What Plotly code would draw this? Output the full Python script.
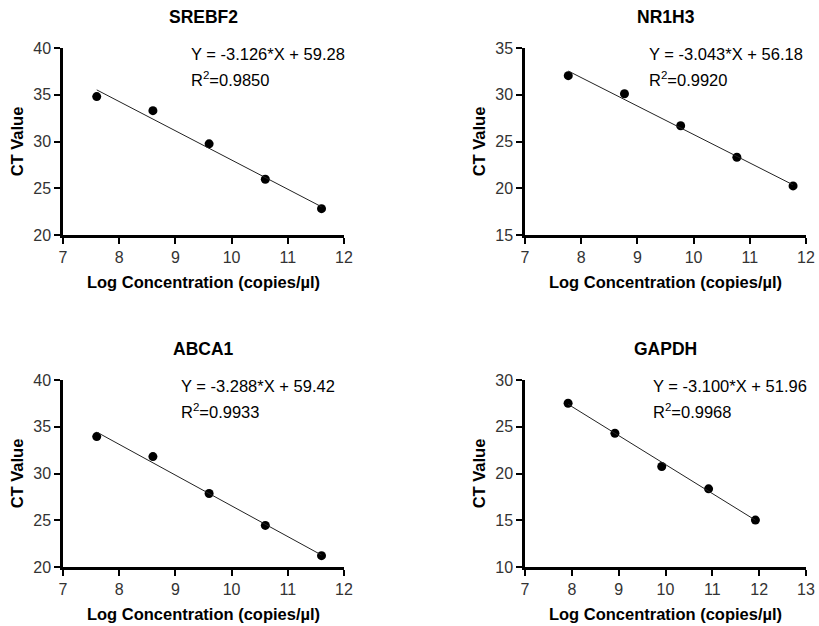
import plotly.graph_objects as go

# ---- data ----
genes = ["SREBF2", "NR1H3", "ABCA1", "GAPDH"]

srebf2_x = [7.6, 8.6, 9.6, 10.6, 11.6]
srebf2_y = [34.8, 33.3, 29.75, 25.96, 22.82]
nr1h3_x = [7.77, 8.77, 9.77, 10.77, 11.77]
nr1h3_y = [32.04, 30.11, 26.68, 23.32, 20.25]
abca1_x = [7.6, 8.6, 9.6, 10.6, 11.6]
abca1_y = [33.95, 31.81, 27.86, 24.45, 21.21]
gapdh_x = [7.92, 8.92, 9.92, 10.92, 11.92]
gapdh_y = [27.51, 24.31, 20.75, 18.36, 15.02]

slopes = [-3.126, -3.043, -3.288, -3.100]
intercepts = [59.28, 56.18, 59.42, 51.96]
r2 = ["0.9850", "0.9920", "0.9933", "0.9968"]

x_ranges = [[7, 12], [7, 12], [7, 12], [7, 13]]
y_ranges = [[20, 40], [15, 35], [20, 40], [10, 30]]
x_ticks = [[7, 8, 9, 10, 11, 12], [7, 8, 9, 10, 11, 12], [7, 8, 9, 10, 11, 12], [7, 8, 9, 10, 11, 12, 13]]

xs = [srebf2_x, nr1h3_x, abca1_x, gapdh_x]
ys = [srebf2_y, nr1h3_y, abca1_y, gapdh_y]

# ---- layout geometry (pixels) ----
W, H = 819, 626
x_dom_px = [(63, 344), (525, 806), (63, 344), (525, 806)]
y_dom_px = [(48, 235), (48, 235), (380, 567), (380, 567)]
eq_x_px = [189, 647, 179, 651]

FONT = "Arial, Liberation Sans, sans-serif"

fig = go.Figure()
layout = dict(
    width=W, height=H,
    margin=dict(l=0, r=0, t=0, b=0),
    paper_bgcolor="white", plot_bgcolor="white",
    showlegend=False,
    font=dict(family=FONT, color="#000000", size=16),
)
annotations = []

for i in range(4):
    n = i + 1
    xa = "x" if n == 1 else f"x{n}"
    ya = "y" if n == 1 else f"y{n}"
    x = xs[i]
    y = ys[i]
    fig.add_trace(go.Scatter(
        x=x, y=y, mode="markers", xaxis=xa, yaxis=ya,
        marker=dict(color="black", size=9),
        cliponaxis=False,
    ))
    lx = [min(x), max(x)]
    ly = [slopes[i] * v + intercepts[i] for v in lx]
    fig.add_trace(go.Scatter(
        x=lx, y=ly, mode="lines", xaxis=xa, yaxis=ya,
        line=dict(color="#222222", width=1),
    ))
    x0, x1 = x_dom_px[i]
    y0, y1 = y_dom_px[i]
    axis_common = dict(
        showgrid=False, zeroline=False, showline=True,
        linecolor="black", linewidth=2.5, automargin=False,
        ticks="outside", ticklen=6, tickwidth=2, tickcolor="black",
        tickfont=dict(family=FONT, size=16, color="#333333"),
    )
    layout["xaxis" if n == 1 else f"xaxis{n}"] = dict(
        axis_common,
        domain=[x0 / W, x1 / W], anchor=ya,
        range=x_ranges[i], tickvals=x_ticks[i],
        title=dict(text="<b>Log Concentration (copies/µl)</b>",
                   font=dict(family=FONT, size=16.5, color="black"), standoff=12),
    )
    layout["yaxis" if n == 1 else f"yaxis{n}"] = dict(
        axis_common,
        domain=[1 - y1 / H, 1 - y0 / H], anchor=xa,
        range=y_ranges[i], dtick=5,
        title=dict(text="<b>CT Value</b>",
                   font=dict(family=FONT, size=16.5, color="black"), standoff=6),
    )
    # title
    annotations.append(dict(
        text=f"<b>{genes[i]}</b>", x=(x0 + x1) / 2 / W, y=1 - (y0 - 31) / H,
        xref="paper", yref="paper", showarrow=False,
        xanchor="center", yanchor="middle",
        font=dict(family=FONT, size=17.5, color="black"),
    ))
    sign = "+" if intercepts[i] >= 0 else "-"
    annotations.append(dict(
        text=f"Y = {slopes[i]:.3f}*X {sign} {abs(intercepts[i]):.2f}",
        x=eq_x_px[i] / W, y=1 - (y0 + 6) / H,
        xref="paper", yref="paper", showarrow=False,
        xanchor="left", yanchor="middle",
        font=dict(family=FONT, size=16.5, color="black"),
    ))
    annotations.append(dict(
        text=f"R<sup>2</sup>={r2[i]}",
        x=eq_x_px[i] / W, y=1 - (y0 + 31) / H,
        xref="paper", yref="paper", showarrow=False,
        xanchor="left", yanchor="middle",
        font=dict(family=FONT, size=16.5, color="black"),
    ))

layout["annotations"] = annotations
fig.update_layout(**layout)
fig.write_html(
    "out.html",
    config={"displayModeBar": False},
    post_script="document.body.style.margin='0';document.body.style.overflow='hidden';",
)
